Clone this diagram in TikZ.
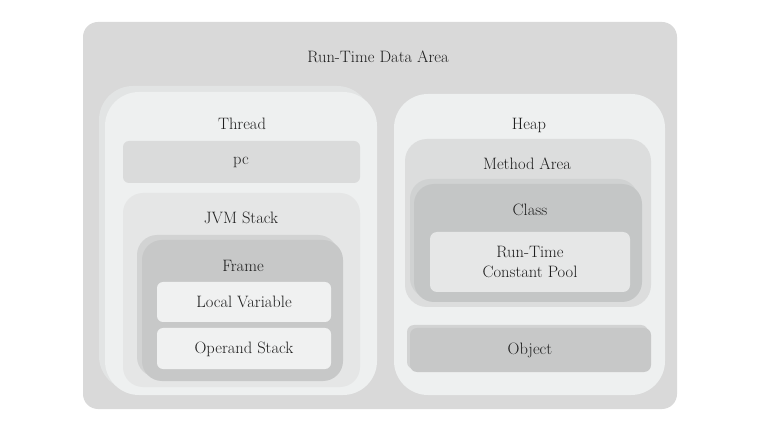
\documentclass[tikz,border=0pt]{standalone}
\usetikzlibrary{fit}
\definecolor{outerc}{RGB}{217,217,217}
\definecolor{paleback}{RGB}{226,228,228}
\definecolor{pale}{RGB}{238,240,240}
\definecolor{pcc}{RGB}{218,219,219}
\definecolor{jvmc}{RGB}{229,230,230}
\definecolor{frameback}{RGB}{210,211,211}
\definecolor{framec}{RGB}{199,200,200}
\definecolor{cellc}{RGB}{240,241,241}
\definecolor{methc}{RGB}{220,221,221}
\definecolor{classback}{RGB}{208,210,210}
\definecolor{classc}{RGB}{196,198,198}
\definecolor{rtcpc}{RGB}{230,231,231}
\definecolor{txt}{RGB}{30,30,30}
\begin{document}
\begin{tikzpicture}[x=1pt,y=-1pt,
  area/.style={inner sep=0pt, draw=none},
  lbl/.style={text=txt, font=\fontsize{16.5}{19}\selectfont, align=center, inner sep=0pt}]
\useasboundingbox (0,0) rectangle (761,422);
\fill[white] (0,0) rectangle (761,422);
% outer
\node[area, fill=outerc, rounded corners=15pt, fit={(83,22)(677,409)}] (rtda) {};
\node[lbl] (rtdat) at (378,57) {Run-Time Data Area};
% thread stack
\node[area, fill=paleback, rounded corners=34pt, fit={(99,86)(371,390)}] (threadb) {};
\node[area, fill=pale, rounded corners=34pt, fit={(105,92)(377,395)}] (thread) {};
\node[lbl] (threadt) at (242,124) {Thread};
\node[area, fill=pcc, rounded corners=6pt, fit={(123,141)(360,183)}] (pc) {};
\node[lbl] (pct) at (241,162) {pc};
\node[area, fill=jvmc, rounded corners=20pt, fit={(123,193)(360,387)}] (jvm) {};
\node[lbl] (jvmt) at (241,218) {JVM Stack};
\node[area, fill=frameback, rounded corners=20pt, fit={(137,235)(338,377)}] (frameb) {};
\node[area, fill=framec, rounded corners=20pt, fit={(142,240)(343,381)}] (frame) {};
\node[lbl] (framet) at (243,266) {Frame};
\node[area, fill=cellc, rounded corners=6pt, fit={(157,282)(331,322)}] (lv) {};
\node[lbl] (lvt) at (244,302) {Local Variable};
\node[area, fill=cellc, rounded corners=6pt, fit={(157,328)(331,369)}] (os) {};
\node[lbl] (ost) at (244,349) {Operand Stack};
% heap
\node[area, fill=pale, rounded corners=34pt, fit={(394,94)(665,395)}] (heap) {};
\node[lbl] (heapt) at (529,125) {Heap};
\node[area, fill=methc, rounded corners=22pt, fit={(405,139)(651,307)}] (meth) {};
\node[lbl] (metht) at (527,164) {Method Area};
\node[area, fill=classback, rounded corners=20pt, fit={(410,179)(638,298)}] (classb) {};
\node[area, fill=classc, rounded corners=20pt, fit={(414,184)(642,302)}] (class) {};
\node[lbl] (classt) at (530,210) {Class};
\node[area, fill=rtcpc, rounded corners=7pt, fit={(430,232)(630,292)}] (rtcp) {};
\node[lbl] (rtcpt) at (530,262) {Run-Time\\[1pt]Constant Pool};
\node[area, fill=frameback, rounded corners=7pt, fit={(407,325)(648,369)}] (objb) {};
\node[area, fill=framec, rounded corners=7pt, fit={(410,328)(651,372)}] (obj) {};
\node[lbl] (objt) at (530,350) {Object};
\end{tikzpicture}
\end{document}
